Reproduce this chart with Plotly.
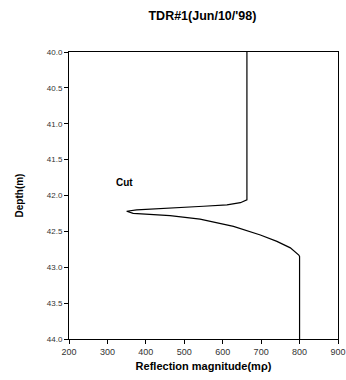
import plotly.graph_objects as go

# Reflection magnitude (m rho) vs depth (m)
magnitude = [663, 663, 646, 611, 550, 463, 376, 350, 367, 463, 541, 628, 698, 741, 776, 798, 800, 800]
depth = [40.0, 42.06, 42.10, 42.13, 42.15, 42.18, 42.20, 42.22, 42.25, 42.28, 42.33, 42.43, 42.55, 42.64, 42.73, 42.83, 42.85, 44.0]

x_ticks = [200, 300, 400, 500, 600, 700, 800, 900]
y_ticks = [40.0, 40.5, 41.0, 41.5, 42.0, 42.5, 43.0, 43.5, 44.0]

fig = go.Figure()
fig.add_trace(go.Scatter(x=magnitude, y=depth, mode="lines",
                         line=dict(color="black", width=1.2), showlegend=False))

fig.add_annotation(x=345, y=41.82, text="<b>Cut</b>", showarrow=False,
                   font=dict(family="Arial, Liberation Sans", size=10, color="black"))

fig.update_layout(
    width=346, height=380,
    margin=dict(l=69, r=8, t=52, b=41),
    paper_bgcolor="white", plot_bgcolor="white",
    title=dict(text="<b>TDR#1(Jun/10/'98)</b>", x=0.585, xanchor="center", y=0.96, yanchor="middle",
               font=dict(family="Arial, Liberation Sans", size=12.5, color="black")),
    font=dict(family="Arial, Liberation Sans", color="black"),
)
fig.update_xaxes(range=[200, 900], tickvals=x_ticks, ticktext=[str(v) for v in x_ticks],
                 automargin=False,
                 showgrid=False, zeroline=False, showline=True, linecolor="black", linewidth=1,
                 mirror=True, ticks="outside", ticklen=4, tickcolor="black",
                 tickfont=dict(size=9, color="#333333"),
                 title=dict(text="<b>Reflection magnitude(mρ)</b>", standoff=6,
                            font=dict(size=11, color="black")))
fig.update_yaxes(range=[44, 40], tickvals=y_ticks, ticktext=[f"{v:.1f}" for v in y_ticks],
                 automargin=False,
                 showgrid=False, zeroline=False, showline=True, linecolor="black", linewidth=1,
                 mirror=True, ticks="outside", ticklen=4, tickcolor="black",
                 tickfont=dict(size=8, color="#333333"),
                 title=dict(text="<b>Depth(m)</b>", standoff=21,
                            font=dict(size=10, color="black")))

fig.write_html("out.html")
